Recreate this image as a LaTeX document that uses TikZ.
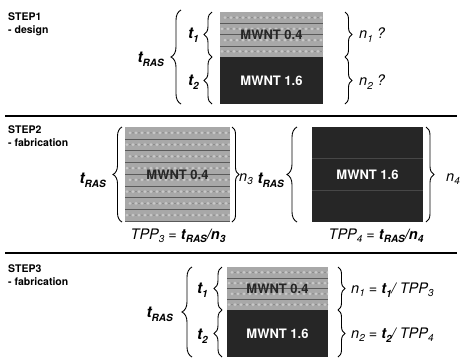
\documentclass[tikz,border=0pt]{standalone}
\usepackage{fontspec}
\setmainfont{TeX Gyre Heros}
\usetikzlibrary{decorations.pathreplacing}
\definecolor{lightbg}{HTML}{A8A8A8}
\definecolor{dotc}{HTML}{C8C8C8}
\definecolor{stripeln}{HTML}{5A5A5A}
\definecolor{darkbg}{HTML}{262626}
\newcommand{\mysub}[1]{\raisebox{-0.45ex}{\fontsize{10}{11}\selectfont #1}}
\newcommand{\lightfill}[5]{%
  \begin{scope}
  \clip (#1,#2) rectangle (#3,#4);
  \fill[lightbg] (#1,#2) rectangle (#3,#4);
  \pgfmathsetmacro{\sh}{(#4-#2)/#5}
  \pgfmathtruncatemacro{\nd}{(#3-#1)/6}
  \foreach \i in {1,...,#5}{
    \pgfmathsetmacro{\yc}{#2+(\i-0.5)*\sh}
    \foreach \j in {0,...,\nd}{
      \fill[dotc] ({#1+2+6*\j+mod(\i,2)*3},\yc) circle (1.5pt);
      \fill[black!50] ({#1+5+6*\j+mod(\i,2)*3},\yc) circle (0.8pt);
    }
  }
  \foreach \i in {1,...,#5}{
    \draw[stripeln,line width=0.5pt] (#1,{#2+\i*\sh}) -- (#3,{#2+\i*\sh});
  }
  \end{scope}}
\begin{document}
\begin{tikzpicture}[x=1pt,y=-1pt,
  brc/.style={decorate,decoration={brace,amplitude=#1},line width=0.9pt},
  steplabel/.style={anchor=north west,align=left,inner sep=0pt,
    font=\bfseries\fontsize{10.5}{13}\selectfont},
  lbl/.style={inner sep=0pt,font=\bfseries\itshape\fontsize{15.5}{17}\selectfont},
  nlbl/.style={inner sep=0pt,font=\itshape\fontsize{14.5}{16}\selectfont},
  sep/.style={line width=1.4pt},
  mwlight/.style={inner sep=0pt,font=\bfseries\fontsize{13}{15}\selectfont,text=black!85},
  mwdark/.style={inner sep=0pt,font=\bfseries\fontsize{13}{15}\selectfont,text=white}]
\useasboundingbox[fill=white] (0,0) rectangle (461,360);

% ---------- STEP 1 ----------
\node[steplabel] (s1) at (8,13) {STEP1\\- design};
\lightfill{220}{12}{323}{57}{4}
\fill[darkbg] (220,57) rectangle (323,104);
\node[mwlight] (m1a) at (271.5,35) {MWNT 0.4};
\node[mwdark] (m1b) at (271.5,81) {MWNT 1.6};
\coordinate (a1t) at (181,10);  \coordinate (a1b) at (181,104);
\coordinate (i1t) at (212,12);  \coordinate (i1m) at (212,57); \coordinate (i1b) at (212,104);
\coordinate (r1t) at (345,12);  \coordinate (r1m) at (345,57); \coordinate (r1b) at (345,104);
\draw[brc=10pt] (a1b) -- (a1t);
\draw[brc=8pt] (i1m) -- (i1t);
\draw[brc=8pt] (i1b) -- (i1m);
\draw[brc=7pt] (r1t) -- (r1m);
\draw[brc=7pt] (r1m) -- (r1b);
\node[lbl,anchor=east] (tr1) at (164,59) {t\mysub{RAS}};
\node[lbl,anchor=east] (t11) at (199,35) {t\mysub{1}};
\node[lbl,anchor=east] (t21) at (199,82) {t\mysub{2}};
\node[nlbl,anchor=west] (n11) at (359,35) {n\mysub{1} ?};
\node[nlbl,anchor=west] (n21) at (359,82) {n\mysub{2} ?};

\coordinate (sp1a) at (5,116); \coordinate (sp1b) at (457,116);
\draw[sep] (sp1a) -- (sp1b);

% ---------- STEP 2 ----------
\node[steplabel] (s2) at (8,126) {STEP2\\- fabrication};
\lightfill{125}{127}{230}{221}{8}
\fill[darkbg] (312,127) rectangle (423,222);
\draw[black!72,line width=0.4pt] (312,158) -- (423,158);
\draw[black!72,line width=0.4pt] (312,190) -- (423,190);
\node[mwlight] (m2a) at (177.5,175) {MWNT 0.4};
\node[mwdark] (m2b) at (367.5,175) {MWNT 1.6};
\coordinate (l2t) at (122,127); \coordinate (l2b) at (122,222);
\coordinate (q2t) at (232,127); \coordinate (q2b) at (232,222);
\coordinate (l3t) at (297,127); \coordinate (l3b) at (297,222);
\coordinate (q3t) at (426,127); \coordinate (q3b) at (426,222);
\draw[brc=9pt] (l2b) -- (l2t);
\draw[brc=7pt] (q2t) -- (q2b);
\draw[brc=10pt] (l3b) -- (l3t);
\draw[brc=8pt] (q3t) -- (q3b);
\node[lbl,anchor=east] (tr2) at (106,180) {t\mysub{RAS}};
\node[nlbl,anchor=west] (n3) at (239,179) {n\mysub{3}};
\node[lbl,anchor=east] (tr3) at (284,180) {t\mysub{RAS}};
\node[nlbl,anchor=west] (n4) at (446,179) {n\mysub{4}};
\node[nlbl] (tpp3) at (178,236) {TPP\mysub{3} = {\bfseries t\mysub{RAS}/n\mysub{3}}};
\node[nlbl] (tpp4) at (376,236) {TPP\mysub{4} = {\bfseries t\mysub{RAS}/n\mysub{4}}};

\coordinate (sp2a) at (5,253); \coordinate (sp2b) at (457,253);
\draw[sep] (sp2a) -- (sp2b);

% ---------- STEP 3 ----------
\node[steplabel] (s3) at (8,265) {STEP3\\- fabrication};
\lightfill{227}{267}{328}{310}{4}
\fill[darkbg] (227,310) rectangle (328,357);
\node[mwlight] (m3a) at (277.5,289) {MWNT 0.4};
\node[mwdark] (m3b) at (277.5,334) {MWNT 1.6};
\coordinate (a3t) at (192,267); \coordinate (a3b) at (192,357);
\coordinate (i3t) at (222,267); \coordinate (i3m) at (222,310); \coordinate (i3b) at (222,357);
\coordinate (r3t) at (338,267); \coordinate (r3m) at (338,310); \coordinate (r3b) at (338,357);
\draw[brc=10pt] (a3b) -- (a3t);
\draw[brc=8pt] (i3m) -- (i3t);
\draw[brc=8pt] (i3b) -- (i3m);
\draw[brc=7pt] (r3t) -- (r3m);
\draw[brc=7pt] (r3m) -- (r3b);
\node[lbl,anchor=east] (tr4) at (173,314) {t\mysub{RAS}};
\node[lbl,anchor=east] (t13) at (208,290) {t\mysub{1}};
\node[lbl,anchor=east] (t23) at (208,336) {t\mysub{2}};
\node[nlbl,anchor=west] (n13) at (351,290) {n\mysub{1} = {\bfseries t\mysub{1}}/ TPP\mysub{3}};
\node[nlbl,anchor=west] (n23) at (351,335) {n\mysub{2} = {\bfseries t\mysub{2}}/ TPP\mysub{4}};
\end{tikzpicture}
\end{document}
